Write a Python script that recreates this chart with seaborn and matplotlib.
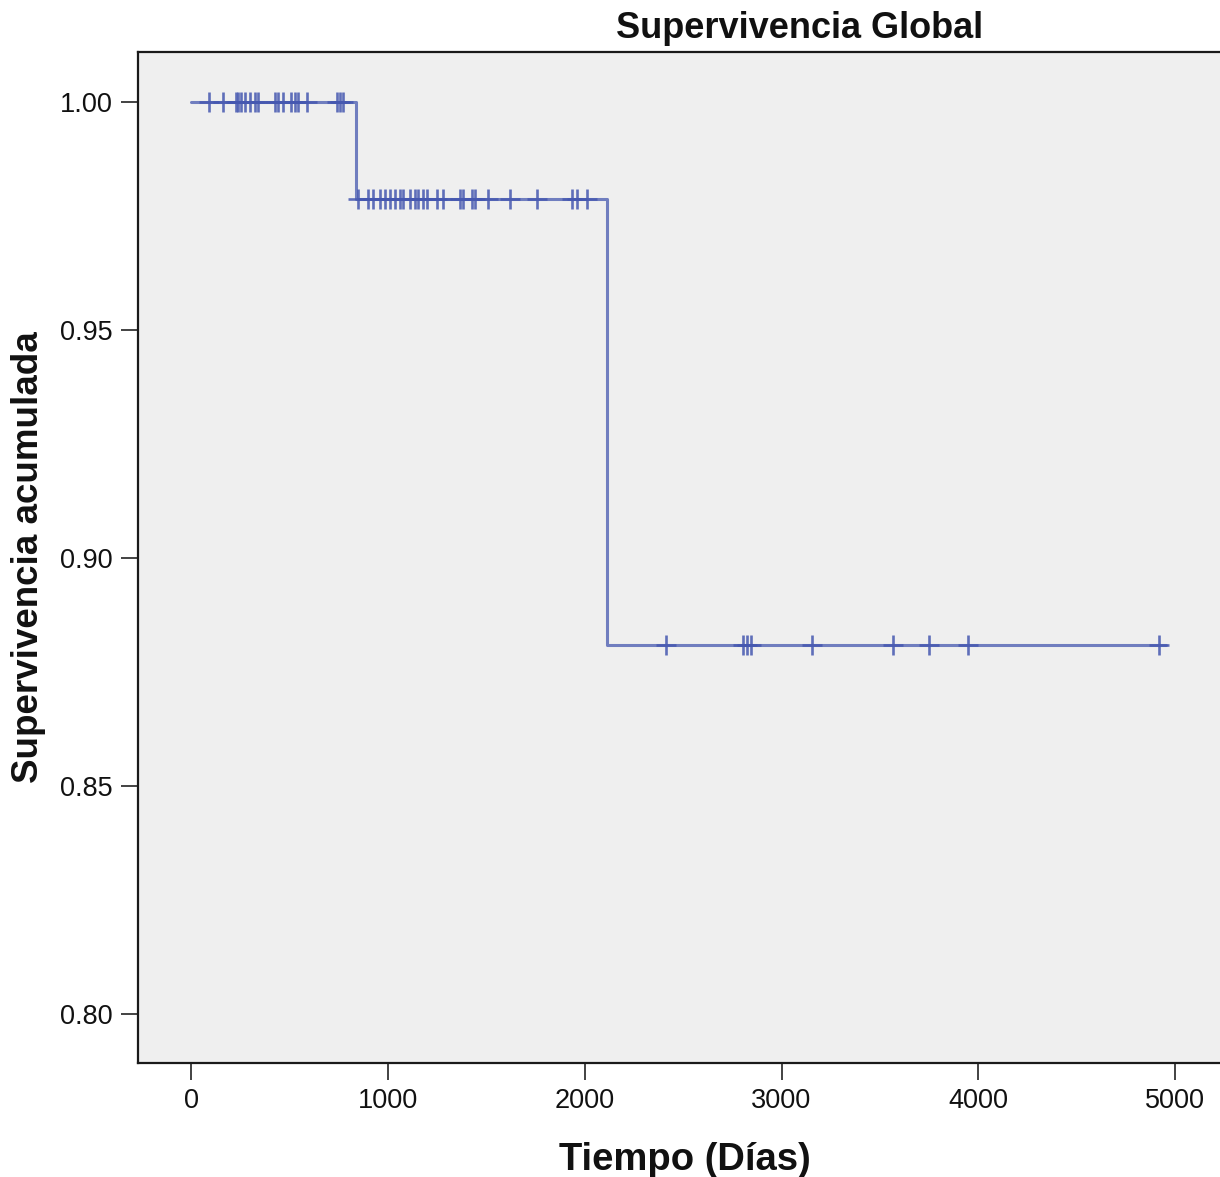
import matplotlib
matplotlib.use("Agg")
import matplotlib.pyplot as plt
import seaborn as sns
import pandas as pd
import numpy as np

# Kaplan-Meier step data
step_times = [0, 838, 2114, 4954]
step_surv = [1.0, 0.9787, 0.8809, 0.8809]

# censored observations (days), grouped by survival level
cens_level1 = [91, 163, 229, 241, 254, 274, 300, 325, 340, 427, 442, 467, 508, 528, 544, 589, 742, 757, 772]
cens_level2 = [849, 899, 925, 960, 986, 1011, 1037, 1062, 1077, 1113, 1138, 1153, 1179, 1199,
               1250, 1280, 1367, 1382, 1428, 1443, 1509, 1621, 1758, 1936, 1961, 2012]
cens_level3 = [2414, 2805, 2825, 2846, 3155, 3567, 3750, 3948, 4919]

title = "Supervivencia Global"
xlabel = "Tiempo (Días)"
ylabel = "Supervivencia acumulada"
xticks = [0, 1000, 2000, 3000, 4000, 5000]
yticks = [0.80, 0.85, 0.90, 0.95, 1.00]

sns.set_theme(style="white")
plt.rcParams["font.family"] = ["Liberation Sans", "DejaVu Sans"]

color = "#4658b0"

fig = plt.figure(figsize=(12.2, 11.77), dpi=100)
ax = fig.add_axes([138/1220, 1 - 1063/1177, 1 - 138/1220 + 0.01, (1063 - 52)/1177])
ax.set_facecolor("#efefef")

line_df = pd.DataFrame({"t": step_times, "s": step_surv})
sns.lineplot(data=line_df, x="t", y="s", ax=ax, drawstyle="steps-post",
             estimator=None, sort=False, color=color, linewidth=2.2, alpha=0.75)

cens_t = cens_level1 + cens_level2 + cens_level3
cens_s = [step_surv[0]] * len(cens_level1) + [step_surv[1]] * len(cens_level2) + [step_surv[2]] * len(cens_level3)
cens_df = pd.DataFrame({"t": cens_t, "s": cens_s})
sns.scatterplot(data=cens_df, x="t", y="s", ax=ax, marker="+", s=220,
                color=color, linewidth=1.9, alpha=0.85, zorder=3)

x_lo = (138 - 191) / 0.19680
x_hi = (1220 + 12 - 191) / 0.19680
ax.set_xlim(x_lo, x_hi)
ax.set_ylim(1 - 961/4560, 1 + 50/4560)
ax.set_xticks(xticks)
ax.set_xticklabels([str(v) for v in xticks])
ax.set_yticks(yticks)
ax.set_yticklabels([f"{v:.2f}" for v in yticks])
ax.tick_params(axis="both", direction="out", length=12, width=1.2, color="#222222",
               labelsize=19.5, labelcolor="#111111", left=True, bottom=True, pad=6)

for sp in ax.spines.values():
    sp.set_color("#1a1a1a")
    sp.set_linewidth(1.6)
ax.spines["right"].set_visible(False)

ax.set_xlabel(xlabel, fontsize=27.5, fontweight="bold", labelpad=20, color="#111111")
ax.set_ylabel(ylabel, fontsize=26.5, fontweight="bold", labelpad=10, color="#111111")
fig.text(800/1220, 1 - 28/1177, title, fontsize=26, fontweight="bold",
         ha="center", va="center", color="#111111")

fig.savefig("out.png", dpi=100, facecolor="white")
